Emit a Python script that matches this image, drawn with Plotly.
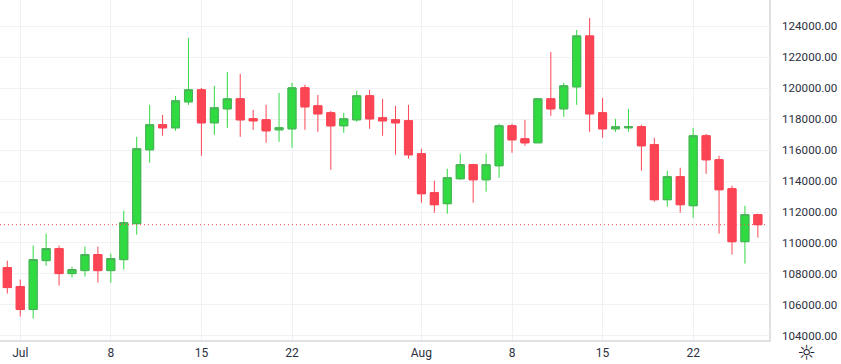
import pandas as pd
import plotly.graph_objects as go

dates = pd.date_range("2025-06-30", periods=59, freq="D")
highs = [108860,107635,109828,110602,109828,108473,109764,109764,109312,112086,116860,118925,118280,119505,123247,120022,120151,121054,120925,118602,118925,119699,
120344,120215,119570,118538,118409,119828,119893,119312,118860,118925,116086,114022,114796,115764,115118,115764,117699,117699,117957,119376,122344,120344,123763,124538,119376,118022,118667,117635,116796,114667,114860,117441,117054,115635,113699,112409,111893]
lows = [106731,105248,105119,108538,107248,107764,107828,107441,107441,108280,110538,115183,116925,117247,118925,115635,116989,117441,116860,117312,116473,116538,
116151,117312,117183,114731,117118,117828,117376,116925,115699,115441,112602,111957,111893,114086,112602,113312,114215,115828,116280,116473,118215,118151,118925,117183,116796,117183,117183,114667,112667,112344,111957,111635,114473,110602,109248,108667,110344]
body_tops = [108409,107183,108925,109635,109635,108280,109248,109248,108990,111312,116086,117635,117635,119183,119893,119893,118731,119312,119312,118022,117957,117441,
120022,120022,118860,118409,118022,119505,119505,118086,117957,117893,115764,113247,114215,115054,115054,115054,117570,117570,116731,119312,119312,120151,123376,123376,118409,117505,117505,117505,116344,114280,114280,116925,116925,115376,113506,111828,111828]
body_bottoms = [107119,105699,105699,108860,108022,108022,108215,108215,108215,108925,111248,116022,117441,117441,119118,117764,117764,118667,117957,117893,117247,117312,
117376,118796,118344,117570,117570,117957,118022,117893,117764,115699,113183,112473,112538,114151,114086,114086,114989,116667,116473,116473,118667,118667,120086,118344,117376,117376,117441,116280,112796,112796,112473,112409,115376,113441,110086,110086,111183]
is_up = [0,0,1,1,0,1,1,0,1,1,1,1,0,1,1,0,1,1,0,0,0,1,
1,0,0,0,1,1,0,0,0,0,0,0,1,1,0,1,1,0,0,1,0,1,1,0,0,1,1,0,0,1,0,1,0,0,0,1,0]
opens = [b if u else t for t, b, u in zip(body_tops, body_bottoms, is_up)]
closes = [t if u else b for t, b, u in zip(body_tops, body_bottoms, is_up)]
last_price = closes[-1]

y_ticks = list(range(104000, 126000, 2000))
y_labels = [f"{v}.00" for v in y_ticks]
x_ticks = ["2025-07-01", "2025-07-08", "2025-07-15", "2025-07-22", "2025-08-01", "2025-08-08", "2025-08-15", "2025-08-22"]
x_labels = ["Jul", "8", "15", "22", "Aug", "8", "15", "22"]

UP, UP_EDGE, DOWN = "#2fdb41", "#4fae5c", "#fb4554"
GRID, AXIS, TEXT = "#f0f1f3", "#e0e1e4", "#2b3040"
font = "Roboto"

fig = go.Figure()
# wicks
fig.add_trace(go.Candlestick(x=dates, open=opens, high=highs, low=lows, close=closes,
    increasing=dict(line=dict(color=UP, width=1), fillcolor=UP),
    decreasing=dict(line=dict(color=DOWN, width=1), fillcolor=DOWN),
    whiskerwidth=0, showlegend=False))
# bodies with their own edge colour
fig.add_trace(go.Candlestick(x=dates, open=opens, close=closes,
    high=[max(a, b) for a, b in zip(opens, closes)], low=[min(a, b) for a, b in zip(opens, closes)],
    increasing=dict(line=dict(color=UP_EDGE, width=1), fillcolor=UP),
    decreasing=dict(line=dict(color=DOWN, width=1), fillcolor=DOWN),
    whiskerwidth=0, showlegend=False))
fig.add_shape(type="line", xref="paper", x0=0, x1=0.997, yref="y", y0=last_price, y1=last_price,
              line=dict(color=DOWN, width=1, dash="1px,3px"))
# settings icon
fig.add_annotation(text="☼", xref="paper", yref="paper", x=1.0494, y=-0.0396, xanchor="center", yanchor="middle",
                   showarrow=False, font=dict(family="DejaVu Sans", size=21, color="#1f2430"))
fig.update_layout(
    width=841, height=364, margin=dict(l=0, r=72, t=0, b=23.5),
    plot_bgcolor="white", paper_bgcolor="white",
    boxgap=0.38, boxgroupgap=0,
    font=dict(family=font, size=12, color=TEXT),
    xaxis=dict(type="date", range=["2025-06-29 10:28", "2025-08-27 20:38"], rangeslider=dict(visible=False),
               tickmode="array", tickvals=x_ticks, ticktext=x_labels, showgrid=True, gridcolor=GRID, gridwidth=1,
               showline=True, linecolor=AXIS, linewidth=1.5, ticks="outside", ticklen=1, tickcolor="rgba(0,0,0,0)",
               zeroline=False, tickfont=dict(family=font, size=12)),
    yaxis=dict(side="right", range=[103731, 125699], tickmode="array", tickvals=y_ticks, ticktext=y_labels,
               showgrid=True, gridcolor=GRID, gridwidth=1, showline=True, linecolor=AXIS, linewidth=1.5, mirror=False,
               ticks="outside", ticklen=9, tickcolor="rgba(0,0,0,0)", zeroline=False, tickfont=dict(family=font, size=11.6)),
)
fig.write_html("out.html", config=dict(displayModeBar=False),
               post_script="document.body.style.margin='0';document.documentElement.style.overflow='hidden';")
